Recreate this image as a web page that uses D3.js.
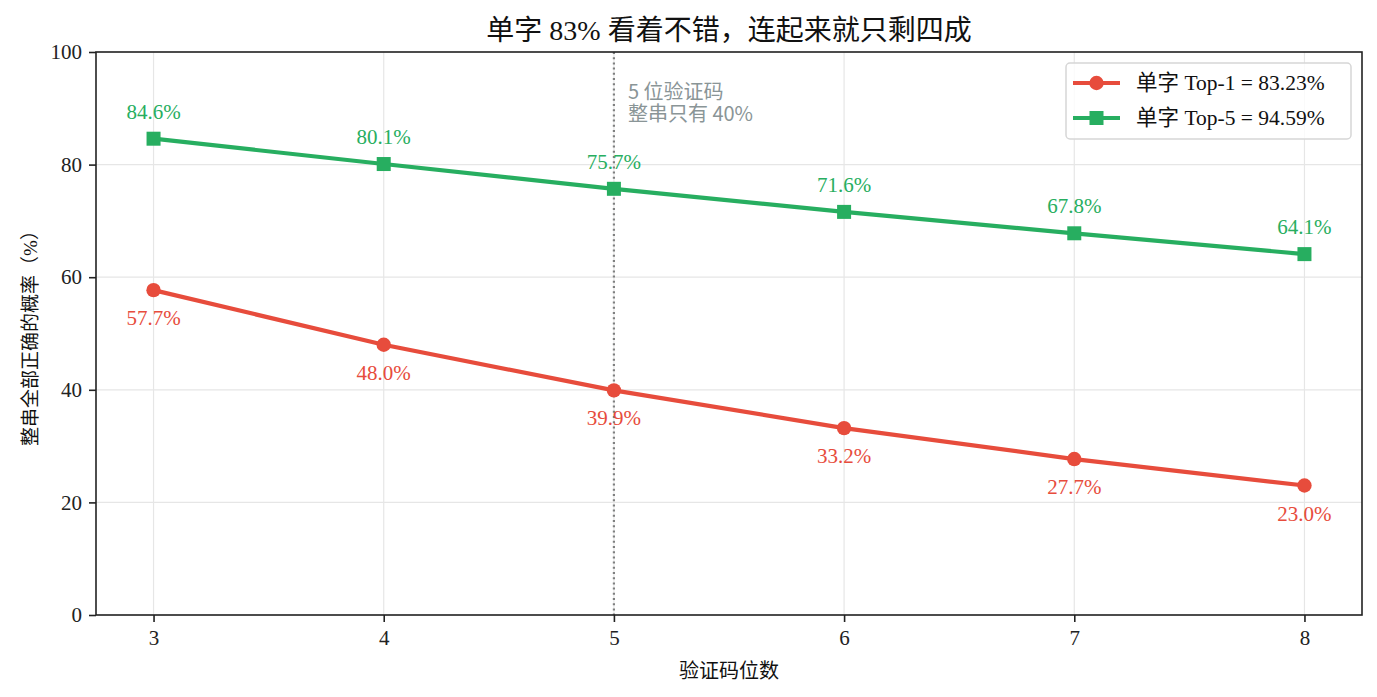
<!DOCTYPE html>
<html>
<head>
<meta charset="utf-8">
<script src="https://cdn.jsdelivr.net/npm/d3@7"></script>
<style>
  body { margin: 0; background: #fff; }
  svg text { font-family: "Liberation Serif", "Noto Sans CJK SC", serif; }
</style>
</head>
<body>
<div id="chart-area"></div>
<script>
// data
const digits = [3, 4, 5, 6, 7, 8];
const top1 = [57.7, 48.0, 39.9, 33.2, 27.7, 23.0];
const top5 = [84.6, 80.1, 75.7, 71.6, 67.8, 64.1];
const yTicks = [0, 20, 40, 60, 80, 100];
const seriesNames = ['单字 Top-1 = 83.23%', '单字 Top-5 = 94.59%'];
const markerLine = 5;

const red = '#e74c3c';
const green = '#27ae60';

const margin = {left: 96, right: 15, top: 52, bottom: 82};
const W = 1377, H = 697;
const width = W - margin.left - margin.right;
const height = H - margin.top - margin.bottom;

const svg = d3.select('#chart-area')
    .append('svg')
    .attr('width', W)
    .attr('height', H);

const g = svg.append('g')
    .attr('transform', `translate(${margin.left}, ${margin.top})`);

const x = d3.scaleLinear().domain([2.75, 8.25]).range([0, width]);
const y = d3.scaleLinear().domain([0, 100]).range([height, 0]);

// grid
g.append('g').selectAll('line')
    .data(digits).enter().append('line')
    .attr('x1', d => x(d)).attr('x2', d => x(d))
    .attr('y1', 0).attr('y2', height)
    .attr('stroke', '#e6e6e6').attr('stroke-width', 1.2);
g.append('g').selectAll('line')
    .data(yTicks).enter().append('line')
    .attr('y1', d => y(d)).attr('y2', d => y(d))
    .attr('x1', 0).attr('x2', width)
    .attr('stroke', '#e6e6e6').attr('stroke-width', 1.2);

// axes
const xAxis = g.append('g')
    .attr('transform', `translate(0, ${height})`)
    .call(d3.axisBottom(x).tickValues(digits).tickSize(7).tickPadding(8).tickFormat(d3.format('d')));
const yAxis = g.append('g')
    .call(d3.axisLeft(y).tickValues(yTicks).tickSize(7).tickPadding(7));
[xAxis, yAxis].forEach(a => {
    a.select('.domain').remove();
    a.selectAll('line').attr('stroke', '#222').attr('stroke-width', 1.6);
    a.selectAll('text').attr('font-size', '21px').style('fill', '#222')
        .style('font-family', '"Liberation Serif", serif');
});

// vertical dotted marker
g.append('line')
    .attr('x1', x(markerLine)).attr('x2', x(markerLine))
    .attr('y1', 0).attr('y2', height)
    .attr('stroke', '#7f8080').attr('stroke-width', 2.2)
    .attr('stroke-dasharray', '2,3.2');

const annot = g.append('text')
    .attr('x', x(markerLine) + 14)
    .attr('y', 47)
    .attr('font-size', '20px')
    .style('font-family', '"Noto Sans CJK SC", sans-serif')
    .style('fill', '#8a9597');
annot.append('tspan').attr('x', x(markerLine) + 14).attr('dy', 0).text('5 位验证码');
annot.append('tspan').attr('x', x(markerLine) + 14).attr('dy', 22).text('整串只有 40%');

const line = d3.line().x((d, i) => x(digits[i])).y(d => y(d));

// top-5 series
g.append('path').datum(top5)
    .attr('d', line).attr('fill', 'none')
    .attr('stroke', green).attr('stroke-width', 4.2);
g.selectAll('rect.m5').data(top5).enter().append('rect')
    .attr('class', 'm5')
    .attr('x', (d, i) => x(digits[i]) - 7).attr('y', d => y(d) - 7)
    .attr('width', 14).attr('height', 14).attr('fill', green);
g.selectAll('text.l5').data(top5).enter().append('text')
    .attr('class', 'l5')
    .attr('x', (d, i) => x(digits[i])).attr('y', d => y(d) - 20)
    .attr('text-anchor', 'middle').attr('font-size', '21px')
    .style('fill', green)
    .text(d => d.toFixed(1) + '%');

// top-1 series
g.append('path').datum(top1)
    .attr('d', line).attr('fill', 'none')
    .attr('stroke', red).attr('stroke-width', 4.2);
g.selectAll('circle.m1').data(top1).enter().append('circle')
    .attr('class', 'm1')
    .attr('cx', (d, i) => x(digits[i])).attr('cy', d => y(d))
    .attr('r', 7.2).attr('fill', red);
g.selectAll('text.l1').data(top1).enter().append('text')
    .attr('class', 'l1')
    .attr('x', (d, i) => x(digits[i])).attr('y', d => y(d) + 35)
    .attr('text-anchor', 'middle').attr('font-size', '21px')
    .style('fill', red)
    .text(d => d.toFixed(1) + '%');

// spines
g.append('rect')
    .attr('width', width).attr('height', height)
    .attr('fill', 'none').attr('stroke', '#222').attr('stroke-width', 1.6);

// title and axis labels
svg.append('text')
    .attr('x', margin.left + width / 2).attr('y', 40)
    .attr('text-anchor', 'middle').attr('font-size', '28px')
    .style('fill', '#111')
    .text('单字 83% 看着不错，连起来就只剩四成');

svg.append('text')
    .attr('x', margin.left + width / 2).attr('y', 678)
    .attr('text-anchor', 'middle').attr('font-size', '20px')
    .style('fill', '#111')
    .text('验证码位数');

svg.append('text')
    .attr('transform', `translate(37, ${margin.top + height / 2}) rotate(-90)`)
    .attr('text-anchor', 'middle').attr('font-size', '19px')
    .style('fill', '#111')
    .text('整串全部正确的概率（%）');

// legend
const legend = svg.append('g').attr('transform', 'translate(1066, 63)');
legend.append('rect')
    .attr('width', 285).attr('height', 76).attr('rx', 4)
    .attr('fill', '#fff').attr('fill-opacity', 0.8)
    .attr('stroke', '#d6d6d6').attr('stroke-width', 1.5);
const items = [{name: seriesNames[0], color: red, shape: 'circle'},
               {name: seriesNames[1], color: green, shape: 'square'}];
items.forEach((it, i) => {
    const row = legend.append('g').attr('transform', `translate(0, ${20 + i * 35})`);
    row.append('line').attr('x1', 7).attr('x2', 54)
        .attr('stroke', it.color).attr('stroke-width', 4.2);
    if (it.shape === 'circle') {
        row.append('circle').attr('cx', 30.5).attr('r', 7.2).attr('fill', it.color);
    } else {
        row.append('rect').attr('x', 23.5).attr('y', -7).attr('width', 14).attr('height', 14).attr('fill', it.color);
    }
    row.append('text').attr('x', 70).attr('y', 7).attr('font-size', '21.5px')
        .style('fill', '#111').text(it.name);
});
</script>
</body>
</html>
